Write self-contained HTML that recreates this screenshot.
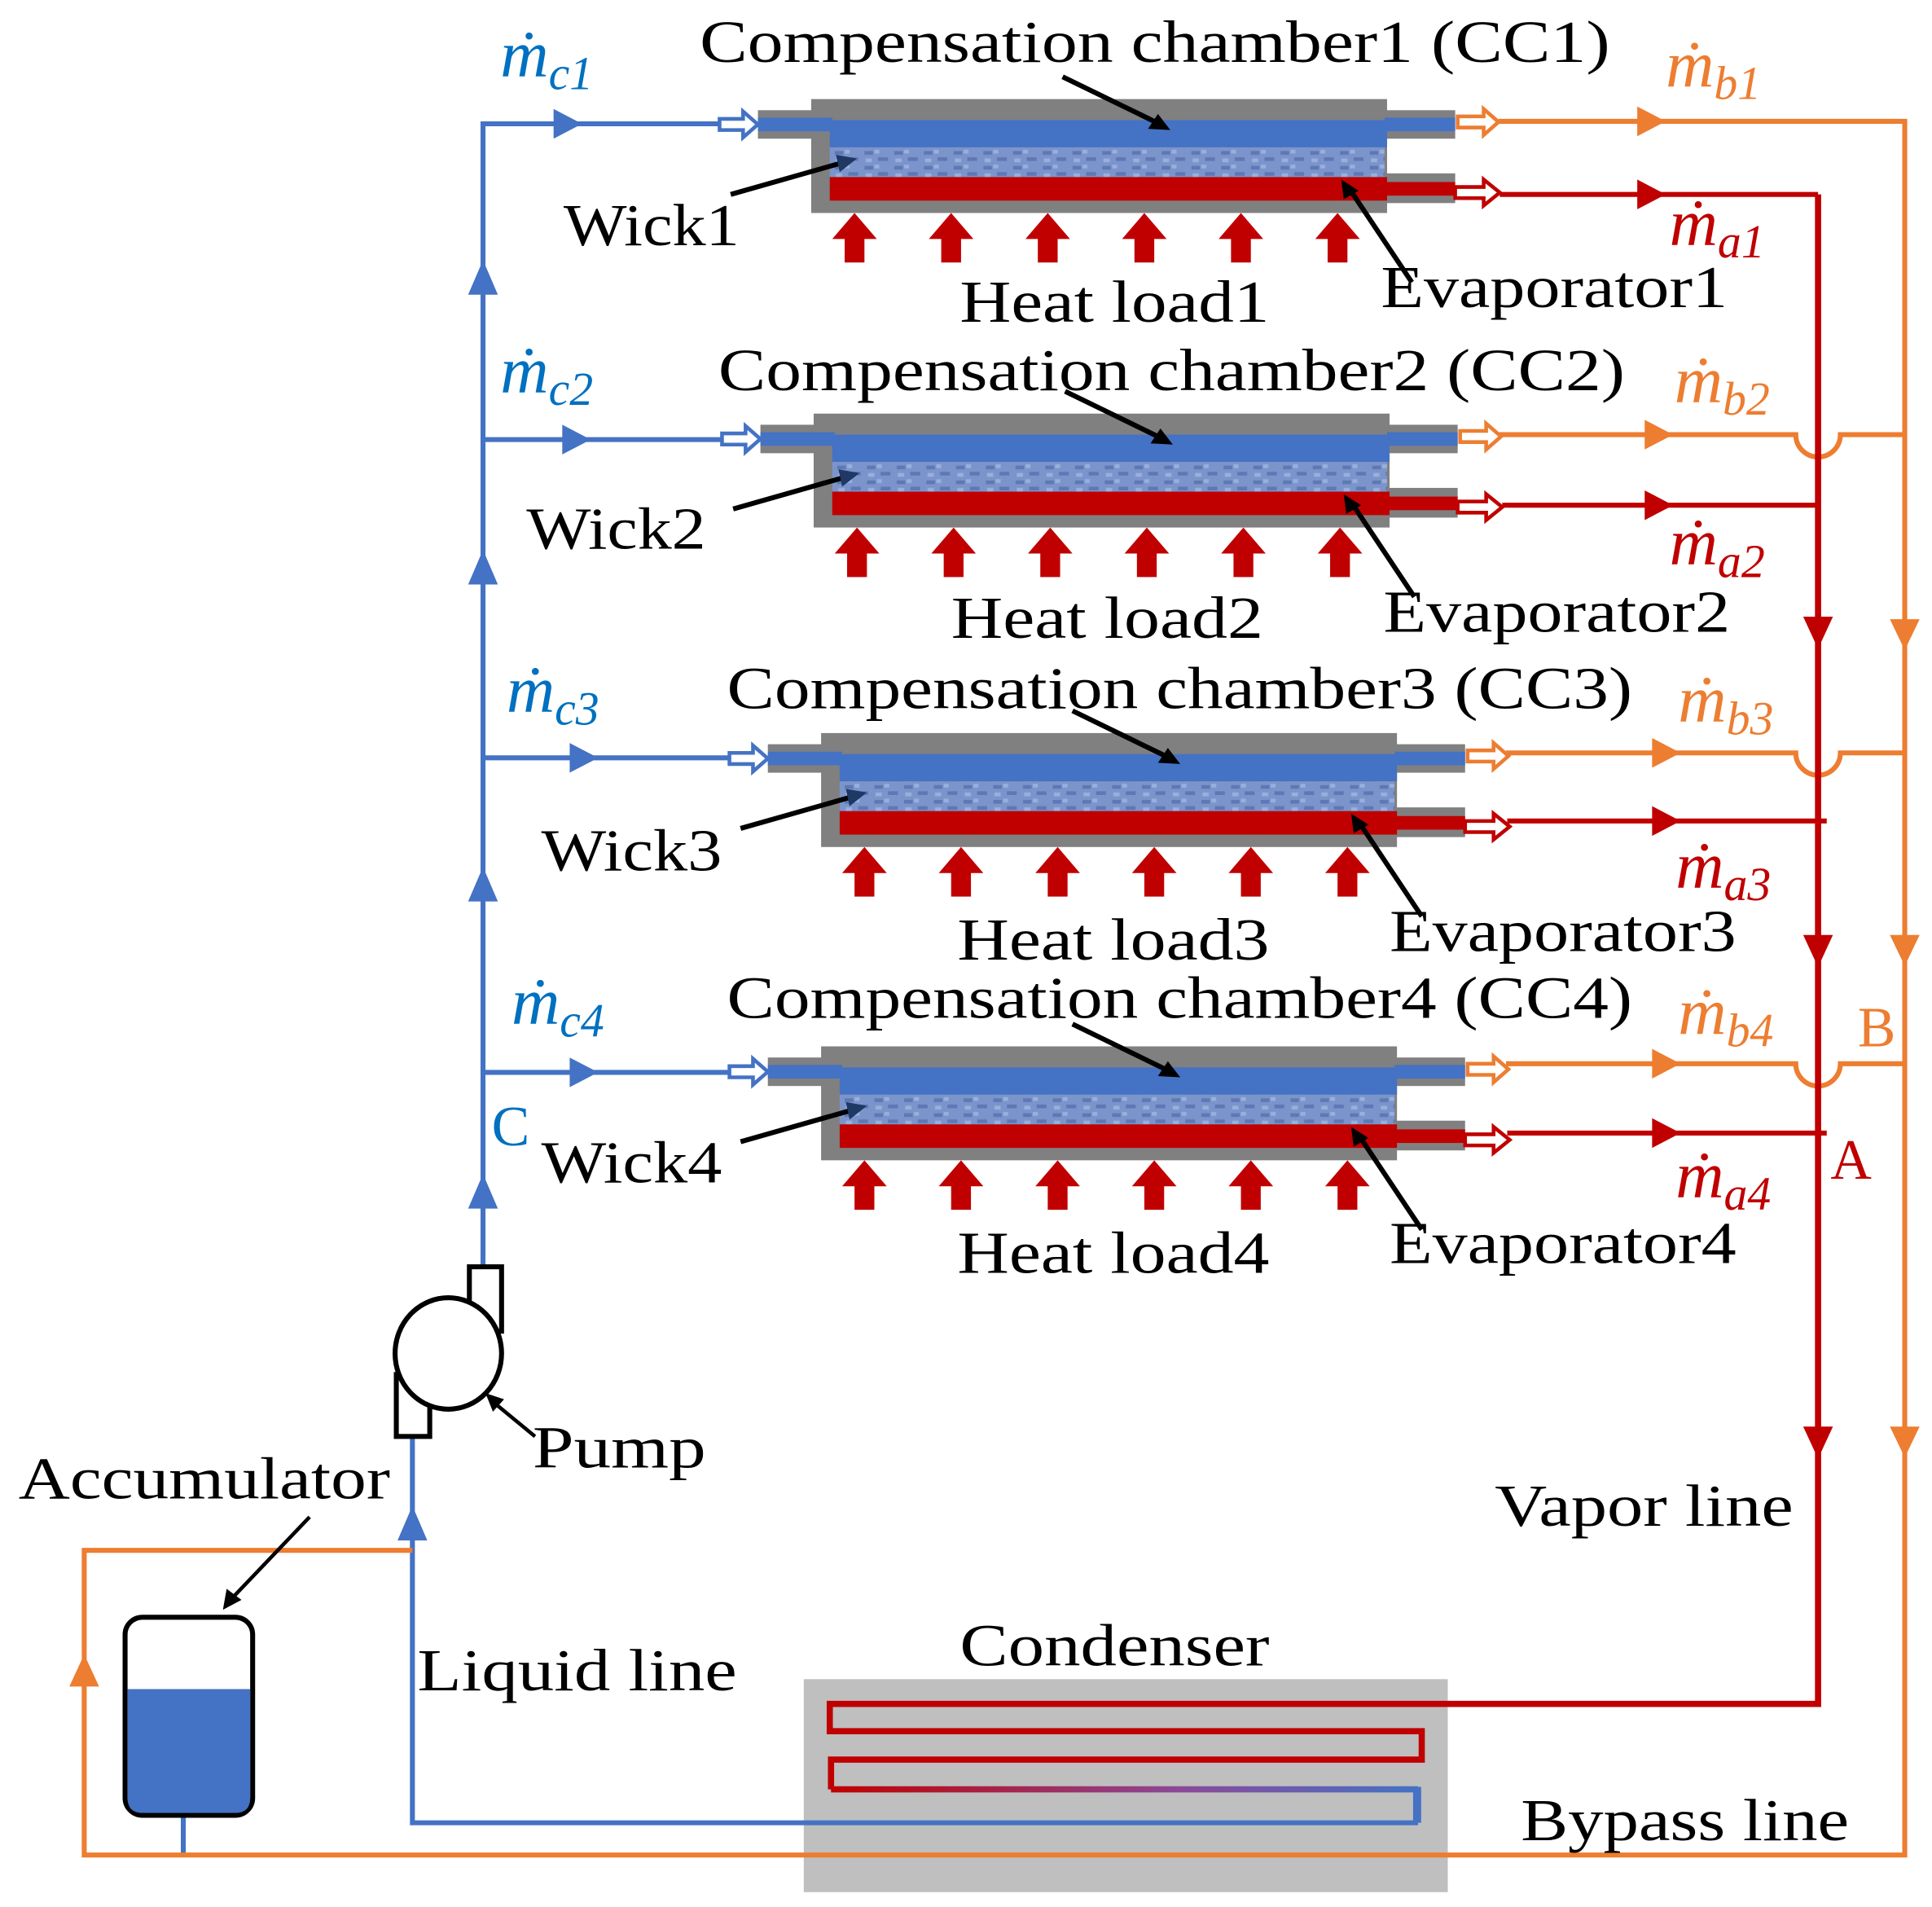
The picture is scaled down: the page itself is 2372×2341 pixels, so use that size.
<!DOCTYPE html>
<html><head><meta charset="utf-8"><style>
html,body{margin:0;padding:0;background:#fff;}
svg{display:block;}
text{font-family:"Liberation Serif",serif;}
</style></head><body>
<svg width="2372" height="2341" viewBox="0 0 1560 1540" preserveAspectRatio="none" xmlns="http://www.w3.org/2000/svg">
<defs>
<linearGradient id="cg" gradientUnits="userSpaceOnUse" x1="671" y1="0" x2="1145" y2="0">
<stop offset="0" stop-color="#C00000"/><stop offset="0.6" stop-color="#8a4a9a"/><stop offset="1" stop-color="#4472C4"/>
</linearGradient>
<pattern id="wk" patternUnits="userSpaceOnUse" width="24" height="12">
<rect width="24" height="12" fill="#7B95CC"/>
<rect x="2" y="2" width="7" height="3" fill="#5E78B4"/>
<rect x="13" y="7" width="8" height="3" fill="#5E78B4"/>
<rect x="10" y="1" width="4" height="3" fill="#9AB0DC"/>
<rect x="3" y="8" width="5" height="3" fill="#9AB0DC"/>
</pattern>
<g id="row">
<rect x="655" y="80" width="465" height="92" fill="#808080"/>
<rect x="612" y="89" width="45" height="23" fill="#808080"/>
<rect x="1118" y="89" width="57" height="23" fill="#808080"/>
<rect x="1118" y="140" width="57" height="24" fill="#808080"/>
<rect x="612" y="95" width="60" height="11" fill="#4472C4"/>
<rect x="1118" y="95" width="57" height="11" fill="#4472C4"/>
<rect x="670" y="97" width="450" height="22" fill="#4472C4"/>
<rect x="670" y="119" width="448" height="24" fill="url(#wk)"/>
<rect x="670" y="143" width="450" height="19" fill="#C00000"/>
<rect x="1118" y="147" width="57" height="11" fill="#C00000"/>
<path d="M581,96 H600 V90 L612,100.5 L600,111 V105 H581 Z" fill="#fff" stroke="#4472C4" stroke-width="3"/>
<path d="M1177,94 H1198 V88 L1210,98.5 L1198,109 V103 H1177 Z" fill="#fff" stroke="#ED7D31" stroke-width="3"/>
<path d="M1175,151 H1198 V145 L1211,155.5 L1198,166 V160 H1175 Z" fill="#fff" stroke="#C00000" stroke-width="3"/>
<g fill="#C00000">
<path d="M682,212 V193 H672 L690,172 L708,193 H698 V212 Z"/>
<path d="M760,212 V193 H750 L768,172 L786,193 H776 V212 Z"/>
<path d="M838,212 V193 H828 L846,172 L864,193 H854 V212 Z"/>
<path d="M916,212 V193 H906 L924,172 L942,193 H932 V212 Z"/>
<path d="M994,212 V193 H984 L1002,172 L1020,193 H1010 V212 Z"/>
<path d="M1072,212 V193 H1062 L1080,172 L1098,193 H1088 V212 Z"/>
</g>
<g stroke="#000" stroke-width="4">
<line x1="858" y1="62" x2="932" y2="98"/>
<line x1="590" y1="157" x2="678" y2="132"/>
<line x1="1140" y1="228" x2="1092" y2="156"/>
</g>
<path d="M945,105 L927,104 L935,92 Z" fill="#000"/>
<path d="M692,128 L678,139 L675,125 Z" fill="#1f3864"/>
<path d="M1083,145 L1097,154 L1085,161 Z" fill="#000"/>
</g>
</defs>

<!-- condenser box first -->
<rect x="649" y="1356" width="520" height="172" fill="#BFBFBF"/>

<use href="#row"/>
<use href="#row" transform="translate(2,254)"/>
<use href="#row" transform="translate(8,512)"/>
<use href="#row" transform="translate(8,765)"/>

<!-- blue -->
<g stroke="#4472C4" stroke-width="4" fill="none">
<path d="M390,1022 V100 H582"/>
<path d="M390,355 H584"/>
<path d="M390,612 H590"/>
<path d="M390,866 H590"/>
<path d="M333,1160 V1472 H1143 V1443"/>
<line x1="148" y1="1467" x2="148" y2="1498"/>
</g>
<g fill="#4472C4">
<path d="M447,88 L470,100 L447,112 Z"/>
<path d="M454,343 L477,355 L454,367 Z"/>
<path d="M460,600 L483,612 L460,624 Z"/>
<path d="M460,854 L483,866 L460,878 Z"/>
<path d="M378,238 L390,210 L402,238 Z"/>
<path d="M378,472 L390,444 L402,472 Z"/>
<path d="M378,728 L390,700 L402,728 Z"/>
<path d="M378,976 L390,948 L402,976 Z"/>
<path d="M321,1244 L333,1216 L345,1244 Z"/>
</g>

<!-- orange -->
<g stroke="#ED7D31" stroke-width="4" fill="none">
<path d="M1210,98 H1538 V1498 H68 V1252 H333"/>
<path d="M1210,351 H1450 A17,17 0 0 0 1486,351 H1538"/>
<path d="M1216,608 H1450 A17,17 0 0 0 1486,608 H1538"/>
<path d="M1216,859 H1450 A17,17 0 0 0 1486,859 H1538"/>
</g>
<g fill="#ED7D31">
<path d="M1322,86 L1345,98 L1322,110 Z"/>
<path d="M1328,339 L1351,351 L1328,363 Z"/>
<path d="M1334,596 L1357,608 L1334,620 Z"/>
<path d="M1334,847 L1357,859 L1334,871 Z"/>
<path d="M1526,500 L1538,525 L1550,500 Z"/>
<path d="M1526,755 L1538,780 L1550,755 Z"/>
<path d="M1526,1152 L1538,1177 L1550,1152 Z"/>
<path d="M56,1362 L68,1336 L80,1362 Z"/>
</g>

<!-- red / condenser coil -->
<g fill="none" stroke-width="5">
<path d="M1468,157 V1376 H670 V1398 H1148 V1421 H671 V1445" stroke="#C00000"/>
<line x1="671" y1="1445" x2="1145" y2="1445" stroke="url(#cg)"/>
<path d="M1145,1443 V1472" stroke="#4472C4"/>
</g>
<g stroke="#C00000" stroke-width="4" fill="none">
<path d="M1211,157 H1468"/>
<path d="M1213,408 H1468"/>
<path d="M1217,663 H1475"/>
<path d="M1217,915 H1475"/>
</g>
<g fill="#C00000">
<path d="M1322,145 L1345,157 L1322,169 Z"/>
<path d="M1328,396 L1351,408 L1328,420 Z"/>
<path d="M1334,651 L1357,663 L1334,675 Z"/>
<path d="M1334,903 L1357,915 L1334,927 Z"/>
<path d="M1456,498 L1468,524 L1480,498 Z"/>
<path d="M1456,755 L1468,781 L1480,755 Z"/>
<path d="M1456,1152 L1468,1178 L1480,1152 Z"/>
</g>

<!-- pump -->
<rect x="379" y="1023" width="26" height="52" fill="#fff" stroke="#000" stroke-width="4"/>
<rect x="320" y="1110" width="27" height="50" fill="#fff" stroke="#000" stroke-width="4"/>
<ellipse cx="362" cy="1093" rx="43" ry="45" fill="#fff" stroke="#000" stroke-width="4"/>
<line x1="432" y1="1160" x2="398" y2="1132" stroke="#000" stroke-width="3"/>
<path d="M392,1125 L407,1130 L398,1140 Z" fill="#000"/>

<!-- accumulator -->
<rect x="101" y="1306" width="103" height="160" rx="14" fill="#fff" stroke="#000" stroke-width="4"/>
<path d="M103,1364 H202 V1452 Q202,1464 190,1464 H115 Q103,1464 103,1452 Z" fill="#4472C4"/>
<line x1="250" y1="1225" x2="188" y2="1290" stroke="#000" stroke-width="3"/>
<path d="M180,1300 L183,1283 L195,1292 Z" fill="#000"/>

<!-- text -->
<g font-size="48" fill="#000">
<text x="565" y="50" textLength="735" lengthAdjust="spacingAndGlyphs">Compensation chamber1 (CC1)</text>
<text x="580" y="315" textLength="732" lengthAdjust="spacingAndGlyphs">Compensation chamber2 (CC2)</text>
<text x="587" y="572" textLength="731" lengthAdjust="spacingAndGlyphs">Compensation chamber3 (CC3)</text>
<text x="587" y="822" textLength="731" lengthAdjust="spacingAndGlyphs">Compensation chamber4 (CC4)</text>
<text x="455" y="198" textLength="142" lengthAdjust="spacingAndGlyphs">Wick1</text>
<text x="425" y="443" textLength="145" lengthAdjust="spacingAndGlyphs">Wick2</text>
<text x="437" y="703" textLength="146" lengthAdjust="spacingAndGlyphs">Wick3</text>
<text x="437" y="955" textLength="146" lengthAdjust="spacingAndGlyphs">Wick4</text>
<text x="775" y="260" textLength="250" lengthAdjust="spacingAndGlyphs">Heat load1</text>
<text x="768" y="515" textLength="252" lengthAdjust="spacingAndGlyphs">Heat load2</text>
<text x="773" y="775" textLength="252" lengthAdjust="spacingAndGlyphs">Heat load3</text>
<text x="773" y="1028" textLength="252" lengthAdjust="spacingAndGlyphs">Heat load4</text>
<text x="1115" y="248" textLength="280" lengthAdjust="spacingAndGlyphs">Evaporator1</text>
<text x="1117" y="510" textLength="280" lengthAdjust="spacingAndGlyphs">Evaporator2</text>
<text x="1122" y="768" textLength="280" lengthAdjust="spacingAndGlyphs">Evaporator3</text>
<text x="1122" y="1020" textLength="280" lengthAdjust="spacingAndGlyphs">Evaporator4</text>
<text x="15" y="1210" textLength="300" lengthAdjust="spacingAndGlyphs">Accumulator</text>
<text x="430" y="1185" textLength="140" lengthAdjust="spacingAndGlyphs">Pump</text>
<text x="337" y="1365" textLength="258" lengthAdjust="spacingAndGlyphs">Liquid line</text>
<text x="775" y="1345" textLength="250" lengthAdjust="spacingAndGlyphs">Condenser</text>
<text x="1207" y="1232" textLength="241" lengthAdjust="spacingAndGlyphs">Vapor line</text>
<text x="1228" y="1486" textLength="265" lengthAdjust="spacingAndGlyphs">Bypass line</text>
</g>
<g font-size="46">
<text x="397" y="925" fill="#0070C0">C</text>
<text x="1500" y="845" fill="#ED7D31">B</text>
<text x="1478" y="952" fill="#C00000">A</text>
</g>
<g font-size="54" font-style="italic">
<text x="404" y="62" fill="#0070C0">ṁ<tspan font-size="38" dy="10">c1</tspan></text>
<text x="404" y="317" fill="#0070C0">ṁ<tspan font-size="38" dy="10">c2</tspan></text>
<text x="409" y="575" fill="#0070C0">ṁ<tspan font-size="38" dy="10">c3</tspan></text>
<text x="413" y="827" fill="#0070C0">ṁ<tspan font-size="38" dy="10">c4</tspan></text>
<text x="1345" y="70" fill="#ED7D31">ṁ<tspan font-size="38" dy="10">b1</tspan></text>
<text x="1352" y="325" fill="#ED7D31">ṁ<tspan font-size="38" dy="10">b2</tspan></text>
<text x="1355" y="583" fill="#ED7D31">ṁ<tspan font-size="38" dy="10">b3</tspan></text>
<text x="1355" y="835" fill="#ED7D31">ṁ<tspan font-size="38" dy="10">b4</tspan></text>
<text x="1348" y="198" fill="#C00000">ṁ<tspan font-size="38" dy="10">a1</tspan></text>
<text x="1348" y="456" fill="#C00000">ṁ<tspan font-size="38" dy="10">a2</tspan></text>
<text x="1353" y="717" fill="#C00000">ṁ<tspan font-size="38" dy="10">a3</tspan></text>
<text x="1353" y="967" fill="#C00000">ṁ<tspan font-size="38" dy="10">a4</tspan></text>
</g>
</svg>
</body></html>
